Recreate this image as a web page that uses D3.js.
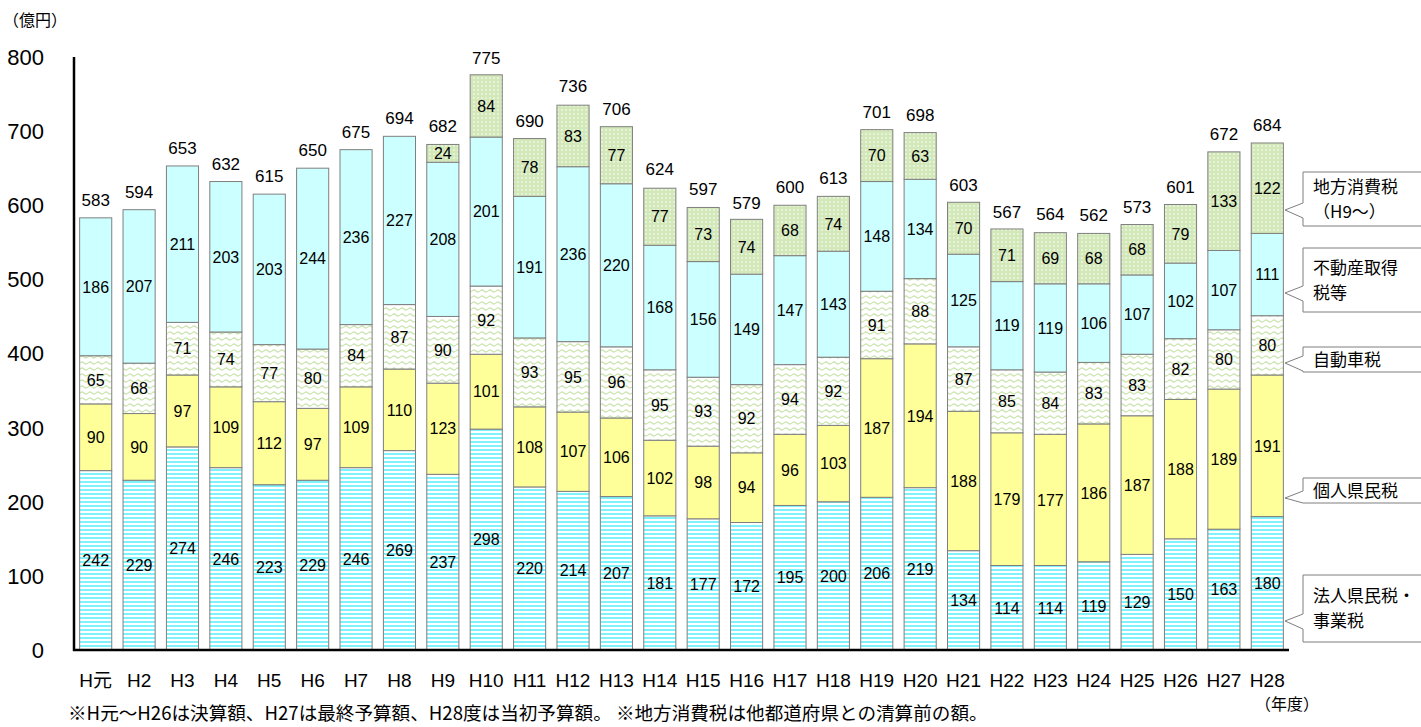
<!DOCTYPE html>
<html><head><meta charset="utf-8">
<script src="https://cdn.jsdelivr.net/npm/d3@7"></script>
<style>
body{margin:0;background:#fff;}
text{font-family:"Liberation Sans",Arial,"Noto Sans CJK JP",sans-serif;fill:#000;}
.jp{font-family:"Noto Sans CJK JP","Liberation Sans",sans-serif;}
</style></head>
<body><svg id="c" width="1421" height="727"></svg>
<script>
const categories = ["H元","H2","H3","H4","H5","H6","H7","H8","H9","H10","H11","H12","H13","H14","H15","H16","H17","H18","H19","H20","H21","H22","H23","H24","H25","H26","H27","H28"];
const houjin   = [242,229,274,246,223,229,246,269,237,298,220,214,207,181,177,172,195,200,206,219,134,114,114,119,129,150,163,180];
const kojin    = [90,90,97,109,112,97,109,110,123,101,108,107,106,102,98,94,96,103,187,194,188,179,177,186,187,188,189,191];
const jidousha = [65,68,71,74,77,80,84,87,90,92,93,95,96,95,93,92,94,92,91,88,87,85,84,83,83,82,80,80];
const fudousan = [186,207,211,203,203,244,236,227,208,201,191,236,220,168,156,149,147,143,148,134,125,119,119,106,107,102,107,111];
const shouhi   = [0,0,0,0,0,0,0,0,24,84,78,83,77,77,73,74,68,74,70,63,70,71,69,68,68,79,133,122];
const totals   = [583,594,653,632,615,650,675,694,682,775,690,736,706,624,597,579,600,613,701,698,603,567,564,562,573,601,672,684];
const yTicks   = [0,100,200,300,400,500,600,700,800];
const seriesNames = ["法人県民税・事業税","個人県民税","自動車税","不動産取得税等","地方消費税"];
const seriesValues = [houjin,kojin,jidousha,fudousan,shouhi];
const legendLines = [["法人県民税・","事業税"],["個人県民税"],["自動車税"],["不動産取得","税等"],["地方消費税","（H9～）"]];

const svg = d3.select("#c");
const defs = svg.append("defs");
let p = defs.append("pattern").attr("id","p0").attr("width",4).attr("height",4).attr("patternUnits","userSpaceOnUse");
p.append("rect").attr("width",4).attr("height",4).attr("fill","#ffffff");
p.append("rect").attr("y",1).attr("width",4).attr("height",2).attr("fill","#80f2fb");
p = defs.append("pattern").attr("id","p1").attr("width",4).attr("height",4).attr("patternUnits","userSpaceOnUse");
p.append("rect").attr("width",4).attr("height",4).attr("fill","#ffff99");
p = defs.append("pattern").attr("id","p2").attr("width",8).attr("height",6).attr("patternUnits","userSpaceOnUse");
p.append("rect").attr("width",8).attr("height",6).attr("fill","#ffffff");
p.append("path").attr("d","M0 3 Q2 1 4 3 T8 3").attr("fill","none").attr("stroke","#cfe6b4").attr("stroke-width",1.2);
p = defs.append("pattern").attr("id","p3").attr("width",4).attr("height",4).attr("patternUnits","userSpaceOnUse");
p.append("rect").attr("width",4).attr("height",4).attr("fill","#ccffff");
p = defs.append("pattern").attr("id","p4").attr("width",4).attr("height",4).attr("patternUnits","userSpaceOnUse");
p.append("rect").attr("width",4).attr("height",4).attr("fill","#d3e8b8");
p.append("circle").attr("cx",2).attr("cy",2).attr("r",1).attr("fill","#eef7e3");

const x = d3.scaleBand().domain(categories).range([74,1289]).paddingInner(0.26).paddingOuter(0.13);
const y = d3.scaleLinear().domain([0,800]).range([650,57]);

const rows = categories.map((c,i)=>{const o={cat:c}; seriesNames.forEach((s,k)=>o[s]=seriesValues[k][i]); return o;});
const stack = d3.stack().keys(seriesNames)(rows);

const g = svg.append("g");
stack.forEach((layer,k)=>{
  g.append("g").selectAll("rect").data(layer.filter(d=>d[1]-d[0]>0)).join("rect")
    .attr("x",d=>x(d.data.cat)).attr("width",x.bandwidth())
    .attr("y",d=>y(d[1])).attr("height",d=>y(d[0])-y(d[1]))
    .attr("fill",`url(#p${k})`).attr("stroke","#7f7f7f").attr("stroke-width",1);
});
stack.forEach((layer,k)=>{
  g.append("g").selectAll("text").data(layer.filter(d=>d[1]-d[0]>0)).join("text")
    .attr("x",d=>x(d.data.cat)+x.bandwidth()/2)
    .attr("y",d=>(y(d[0])+y(d[1]))/2).attr("dy","0.36em")
    .attr("text-anchor","middle").attr("font-size",16)
    .text(d=>d[1]-d[0]);
});
g.append("g").selectAll("text").data(categories).join("text")
  .attr("x",c=>x(c)+x.bandwidth()/2).attr("y",(c,i)=>y(totals[i])-12)
  .attr("text-anchor","middle").attr("font-size",17).text((c,i)=>totals[i]);

svg.append("line").attr("x1",74).attr("x2",74).attr("y1",y(800)).attr("y2",y(0)+1).attr("stroke","#000").attr("stroke-width",2.5);
svg.append("line").attr("x1",73).attr("x2",1289).attr("y1",y(0)).attr("y2",y(0)).attr("stroke","#000").attr("stroke-width",2.5);

svg.append("g").selectAll("text").data(yTicks).join("text")
  .attr("x",44).attr("y",d=>y(d)).attr("dy","0.36em").attr("text-anchor","end").attr("font-size",22).text(d=>d);
svg.append("g").selectAll("text").data(categories).join("text")
  .attr("x",c=>x(c)+x.bandwidth()/2).attr("y",687).attr("text-anchor","middle").attr("font-size",19).text(c=>c);

svg.append("text").attr("class","jp").attr("x",3).attr("y",26).attr("font-size",16).text("（億円）");
svg.append("text").attr("class","jp").attr("x",1255).attr("y",710).attr("font-size",16).text("（年度）");
svg.append("text").attr("class","jp").attr("x",68).attr("y",720).attr("font-size",18.6).text("※H元～H26は決算額、H27は最終予算額、H28度は当初予算額。 ※地方消費税は他都道府県との清算前の額。");

const boxes = [
  {top:575,bottom:642,tip:621},
  {top:478,bottom:503,tip:498},
  {top:347,bottom:372,tip:363},
  {top:248,bottom:312,tip:293},
  {top:172,bottom:226,tip:210}
];
const bl = 1303, br = 1432, tipX = 1285;
boxes.forEach((b,k)=>{
  const up = b.tip-7, lo = Math.min(b.tip+8,b.bottom);
  const path = `M${bl},${b.top} L${br},${b.top} L${br},${b.bottom} L${bl},${b.bottom} L${bl},${lo} L${tipX},${b.tip} L${bl},${up} Z`;
  svg.append("path").attr("d",path).attr("fill","#fff").attr("stroke","#7f7f7f").attr("stroke-width",1);
  const lines = legendLines[k];
  const h = b.bottom-b.top;
  const lh = 25;
  const start = b.top + h/2 - (lines.length-1)*lh/2;
  lines.forEach((t,j)=>{
    svg.append("text").attr("class","jp").attr("x",1313).attr("y",start+j*lh).attr("dy","0.36em").attr("font-size",17).text(t);
  });
});
</script></body></html>
